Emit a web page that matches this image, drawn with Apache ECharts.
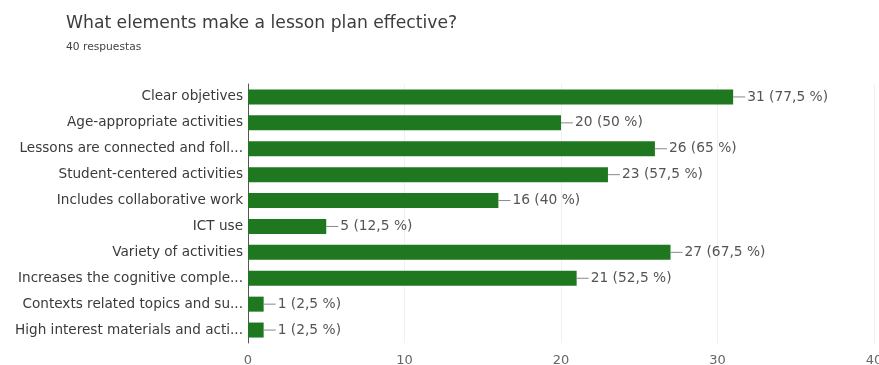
<!DOCTYPE html>
<html>
<head>
<meta charset="utf-8">
<script src="https://cdn.jsdelivr.net/npm/echarts@6/dist/echarts.min.js"></script>
<style>
  html, body { margin: 0; padding: 0; background: #fff; }
  #chart { width: 879px; height: 365px; }
</style>
</head>
<body>
<div id="chart"></div>
<script>
// Survey answers (categories as shown, long ones already shortened)
const categories = [
  'Clear objetives',
  'Age-appropriate activities',
  'Lessons are connected and foll...',
  'Student-centered activities',
  'Includes collaborative work',
  'ICT use',
  'Variety of activities',
  'Increases the cognitive comple...',
  'Contexts related topics and su...',
  'High interest materials and acti...'
];
const counts = [31, 20, 26, 23, 16, 5, 27, 21, 1, 1];
const totalResponses = 40;
const xTicks = [0, 10, 20, 30, 40];

const chart = echarts.init(document.getElementById('chart'));

function pctText(v) {
  const p = v / totalResponses * 100;
  return String(Math.round(p * 10) / 10).replace('.', ',') + ' %';
}

chart.setOption({
  animation: false,
  textStyle: { fontFamily: '"DejaVu Sans", sans-serif' },
  title: {
    text: 'What elements make a lesson plan effective?',
    subtext: totalResponses + ' respuestas',
    left: 61,
    top: 10,
    itemGap: 10,
    textStyle: { fontSize: 17.2, fontWeight: 'normal', color: '#3c3c3c' },
    subtextStyle: { fontSize: 10.7, color: '#444' }
  },
  grid: { left: 248, right: 5, top: 84, bottom: 22, outerBoundsMode: 'none' },
  xAxis: {
    type: 'value',
    min: xTicks[0],
    max: xTicks[xTicks.length - 1],
    interval: 10,
    axisLine: { show: false },
    axisTick: { show: false },
    axisLabel: { color: '#666', fontSize: 13, margin: 11 },
    splitLine: { lineStyle: { color: '#f0f0f0' } }
  },
  yAxis: {
    type: 'category',
    inverse: true,
    data: categories,
    axisLine: { show: true, lineStyle: { color: '#555' } },
    axisTick: { show: false },
    axisLabel: { color: '#3a3a3a', fontSize: 13.6, margin: 5 }
  },
  series: [{
    type: 'bar',
    data: counts,
    barWidth: 15,
    itemStyle: { color: '#1f781f' },
    label: {
      show: true,
      position: 'right',
      distance: 0,
      formatter: function (p) {
        return '{l|}{t|' + p.value + ' (' + pctText(p.value) + ')}';
      },
      rich: {
        l: { width: 12, height: 1, backgroundColor: '#888', padding: 0 },
        t: { color: '#555', fontSize: 13.8, padding: [0, 0, 0, 2] }
      }
    }
  }]
});
</script>
</body>
</html>
